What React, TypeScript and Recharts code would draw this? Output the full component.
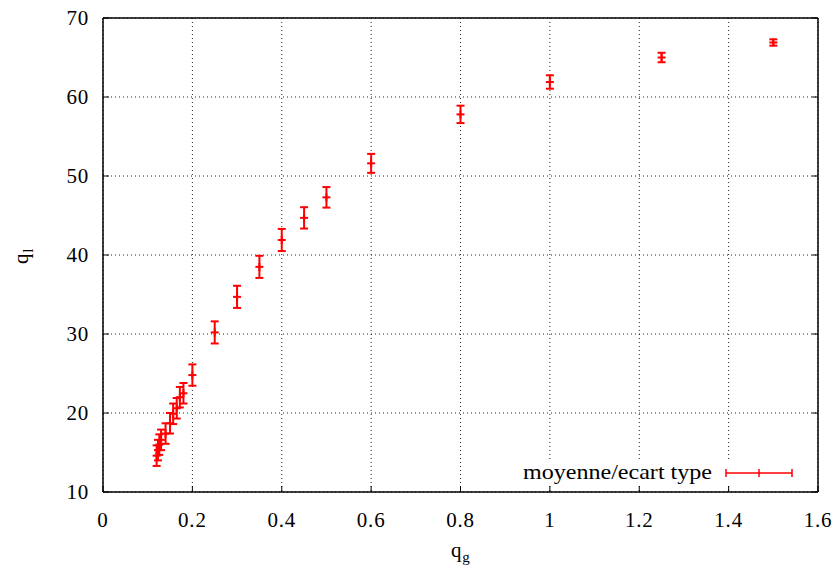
import { ScatterChart, Scatter, XAxis, YAxis, CartesianGrid, ErrorBar, Label } from 'recharts';

// debit gaz (q_g), debit liquide moyen (q_l) et ecart type
const QG = [0.12, 0.123, 0.126, 0.13, 0.14, 0.15, 0.157, 0.165, 0.172, 0.18, 0.2, 0.25, 0.3, 0.35, 0.4, 0.45, 0.5, 0.6, 0.8, 1.0, 1.25, 1.5];
const QL = [14.6, 15.3, 16.0, 16.6, 17.4, 18.7, 19.9, 20.6, 22.0, 22.5, 24.8, 30.2, 34.7, 38.5, 41.9, 44.7, 47.3, 51.6, 57.8, 61.9, 65.0, 66.9];
const STD = [1.3, 1.3, 1.3, 1.3, 1.3, 1.3, 1.3, 1.3, 1.3, 1.3, 1.35, 1.4, 1.4, 1.4, 1.4, 1.35, 1.3, 1.2, 1.1, 0.85, 0.6, 0.4];

const X_TICKS = [0, 0.2, 0.4, 0.6, 0.8, 1, 1.2, 1.4, 1.6];
const Y_TICKS = [10, 20, 30, 40, 50, 60, 70];
const LEGEND_LABEL = 'moyenne/ecart type';

const RED = '#ff0000';
const FONT = '"Liberation Serif", "Times New Roman", serif';
const txt = { fontFamily: FONT, fontSize: 21, fill: '#000', letterSpacing: 0.8 };

const data = QG.map((qg, i) => ({ qg, ql: QL[i], err: STD[i] }));

function PlusPoint(props: any) {
  const { cx, cy } = props;
  if (cx == null || cy == null) return null;
  return (
    <g stroke={RED} strokeWidth={2}>
      <line x1={cx - 4} y1={cy} x2={cx + 4} y2={cy} />
      <line x1={cx} y1={cy - 4} x2={cx} y2={cy + 4} />
    </g>
  );
}

function XTick(props: any) {
  const { x, y, payload } = props;
  return (
    <text x={x} y={y} dy="0.7em" textAnchor="middle" style={txt}>
      {payload.value}
    </text>
  );
}

function YTick(props: any) {
  const { x, y, payload } = props;
  return (
    <text x={x} y={y} dy="0.35em" textAnchor="end" style={txt}>
      {payload.value}
    </text>
  );
}

// gnuplot-style key, drawn on a white box over the grid
function LegendBox() {
  return (
    <div style={{ position: 'absolute', left: 505, top: 459, width: 300, height: 26, background: '#fff' }}>
      <svg width={300} height={26} style={{ display: 'block' }}>
        <text x={207} y={20} textAnchor="end" style={{ ...txt, letterSpacing: 0 }} textLength={189} lengthAdjust="spacingAndGlyphs">
          {LEGEND_LABEL}
        </text>
        <g stroke={RED} strokeWidth={1.5}>
          <line x1={221} y1={14} x2={287} y2={14} />
          <line x1={221} y1={10} x2={221} y2={18} />
          <line x1={287} y1={10} x2={287} y2={18} />
          <line x1={254} y1={10} x2={254} y2={18} />
        </g>
      </svg>
    </div>
  );
}

export default function App() {
  return (
    <div style={{ position: 'absolute', left: 0, top: 0, width: 840, height: 569, background: '#fff', fontFamily: FONT }}>
      <ScatterChart width={840} height={569} margin={{ top: 0, right: 0, left: 0, bottom: 0 }}>
        <CartesianGrid xAxisId="b" yAxisId="l" stroke="#222" strokeDasharray="1 3" strokeWidth={1} />
        <XAxis
          xAxisId="b"
          type="number"
          dataKey="qg"
          orientation="bottom"
          domain={[0, 1.6]}
          ticks={X_TICKS}
          allowDataOverflow
          height={77}
          tickSize={-6}
          tickMargin={26}
          tick={<XTick />}
          axisLine={{ stroke: '#000', strokeWidth: 1.5 }}
          tickLine={{ stroke: '#000' }}
        >
          <Label
            content={() => (
              <text x={451} y={557} style={txt}>
                q<tspan dy={5} style={{ fontSize: 15 }}>g</tspan>
              </text>
            )}
          />
        </XAxis>
        <XAxis
          xAxisId="t"
          type="number"
          orientation="top"
          domain={[0, 1.6]}
          ticks={X_TICKS}
          allowDataOverflow
          height={18}
          tickSize={-6}
          tickFormatter={() => ''}
          axisLine={{ stroke: '#000', strokeWidth: 1.5 }}
          tickLine={{ stroke: '#000' }}
        />
        <YAxis
          yAxisId="l"
          type="number"
          dataKey="ql"
          orientation="left"
          domain={[10, 70]}
          ticks={Y_TICKS}
          allowDataOverflow
          width={103}
          tickSize={-6}
          tickMargin={20}
          tick={<YTick />}
          axisLine={{ stroke: '#000', strokeWidth: 1.5 }}
          tickLine={{ stroke: '#000' }}
        >
          <Label
            content={() => (
              <text transform="translate(28,264) rotate(-90)" style={txt}>
                q<tspan dy={5} style={{ fontSize: 15 }}>l</tspan>
              </text>
            )}
          />
        </YAxis>
        <YAxis
          yAxisId="r"
          type="number"
          orientation="right"
          domain={[10, 70]}
          ticks={Y_TICKS}
          allowDataOverflow
          width={22}
          tickSize={-6}
          tickFormatter={() => ''}
          axisLine={{ stroke: '#000', strokeWidth: 1.5 }}
          tickLine={{ stroke: '#000' }}
        />
        <Scatter
          name={LEGEND_LABEL}
          data={data}
          xAxisId="b"
          yAxisId="l"
          fill={RED}
          shape={PlusPoint}
          isAnimationActive={false}
        >
          <ErrorBar dataKey="err" direction="y" width={4} stroke={RED} strokeWidth={2} />
        </Scatter>
      </ScatterChart>
      <LegendBox />
    </div>
  );
}
